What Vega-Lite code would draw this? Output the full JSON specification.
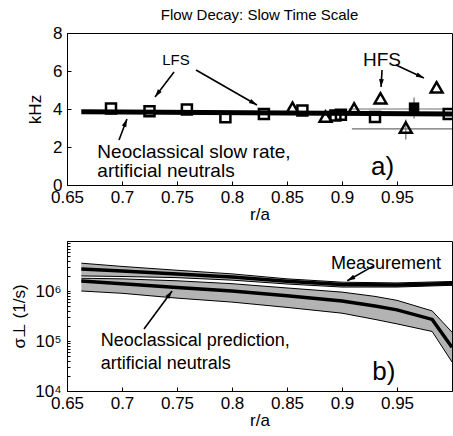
{
  "$schema": "https://vega.github.io/schema/vega-lite/v6.json",
  "padding": {"left": 10, "top": 7, "right": 0, "bottom": 0},
  "spacing": 10,
  "config": {
    "font": "Liberation Sans",
    "view": {"stroke": "black", "strokeWidth": 1},
    "axis": {
      "grid": false, "domainColor": "black", "tickColor": "black",
      "labelColor": "black", "titleColor": "black",
      "labelFontSize": 17, "titleFontSize": 17, "titleFontWeight": "normal",
      "tickSize": -4, "labelPadding": 9, "titlePadding": 6, "labelOverlap": false, "labelFlush": false
    },
    "axisX": {"labelPadding": 8},
    "text": {"font": "Liberation Sans", "color": "black"}
  },
  "datasets": {
    "lfs": [
      {"r": 0.690, "k": 4.03}, {"r": 0.725, "k": 3.88}, {"r": 0.759, "k": 3.98},
      {"r": 0.794, "k": 3.56}, {"r": 0.829, "k": 3.74}, {"r": 0.864, "k": 3.92},
      {"r": 0.894, "k": 3.66}, {"r": 0.899, "k": 3.70}, {"r": 0.930, "k": 3.58},
      {"r": 0.997, "k": 3.74}
    ],
    "hfs": [
      {"r": 0.855, "k": 4.07}, {"r": 0.885, "k": 3.60}, {"r": 0.911, "k": 4.03},
      {"r": 0.935, "k": 4.56}, {"r": 0.958, "k": 3.02}, {"r": 0.986, "k": 5.14}
    ],
    "lfsmean": [{"r": 0.9655, "k": 4.07}],
    "errbars": [
      {"r": 0.906, "r2": 1.0, "k": 4.0, "k2": 4.0},
      {"r": 0.909, "r2": 1.0, "k": 2.95, "k2": 2.95},
      {"r": 0.9655, "r2": 0.9655, "k": 3.5, "k2": 4.6},
      {"r": 0.958, "r2": 0.958, "k": 2.4, "k2": 3.45}
    ],
    "neoslow": [{"r": 0.663, "k": 3.86}, {"r": 1.0, "k": 3.74}],
    "arrowsA": [
      {"id": "lfs1", "r": 0.7473, "k": 5.947, "r2": 0.730, "k2": 4.632},
      {"id": "lfs2", "r": 0.7673, "k": 6.053, "r2": 0.8227, "k2": 4.21},
      {"id": "hfs1", "r": 0.9364, "k": 6.053, "r2": 0.9355, "k2": 5.158},
      {"id": "hfs2", "r": 0.9491, "k": 6.316, "r2": 0.9745, "k2": 5.632},
      {"id": "neo", "r": 0.6973, "k": 2.368, "r2": 0.7045, "k2": 3.474}
    ],
    "textA": [
      {"t": "LFS", "r": 0.7491, "k": 6.58},
      {"t": "HFS", "r": 0.9364, "k": 6.58}
    ],
    "textA2": [
      {"t": "Neoclassical slow rate,", "r": 0.6776, "k": 1.75},
      {"t": "artificial neutrals", "r": 0.6776, "k": 0.75}
    ],
    "labelA": [{"t": "a)", "r": 0.9368, "k": 0.95}],
    "bands": [
      {"series": "pred", "r": 0.663, "lo": 1000000, "mid": 1580000, "hi": 1800000},
      {"series": "pred", "r": 0.70, "lo": 900000, "mid": 1400000, "hi": 1750000},
      {"series": "pred", "r": 0.75, "lo": 720000, "mid": 1180000, "hi": 1600000},
      {"series": "pred", "r": 0.80, "lo": 600000, "mid": 1000000, "hi": 1400000},
      {"series": "pred", "r": 0.85, "lo": 470000, "mid": 800000, "hi": 1150000},
      {"series": "pred", "r": 0.90, "lo": 360000, "mid": 630000, "hi": 950000},
      {"series": "pred", "r": 0.93, "lo": 270000, "mid": 500000, "hi": 780000},
      {"series": "pred", "r": 0.95, "lo": 220000, "mid": 420000, "hi": 650000},
      {"series": "pred", "r": 0.982, "lo": 155000, "mid": 270000, "hi": 400000},
      {"series": "pred", "r": 1.0, "lo": 38000, "mid": 75000, "hi": 150000},
      {"series": "meas", "r": 0.663, "lo": 2000000, "mid": 2750000, "hi": 3600000},
      {"series": "meas", "r": 0.70, "lo": 1950000, "mid": 2500000, "hi": 3100000},
      {"series": "meas", "r": 0.75, "lo": 1850000, "mid": 2200000, "hi": 2600000},
      {"series": "meas", "r": 0.80, "lo": 1650000, "mid": 1900000, "hi": 2200000},
      {"series": "meas", "r": 0.85, "lo": 1380000, "mid": 1560000, "hi": 1750000},
      {"series": "meas", "r": 0.90, "lo": 1200000, "mid": 1350000, "hi": 1500000},
      {"series": "meas", "r": 0.95, "lo": 1200000, "mid": 1320000, "hi": 1450000},
      {"series": "meas", "r": 1.0, "lo": 1300000, "mid": 1420000, "hi": 1550000}
    ],
    "arrowsB": [
      {"id": "meas", "r": 0.9291, "v": 3210000, "r2": 0.9048, "v2": 1607000},
      {"id": "pred", "r": 0.72, "v": 173800, "r2": 0.7455, "v2": 1000000}
    ],
    "textB": [
      {"t": "Neoclassical prediction,", "r": 0.6806, "v": 101400},
      {"t": "artificial neutrals", "r": 0.6806, "v": 34700}
    ],
    "textB2": [{"t": "Measurement", "r": 0.94, "v": 3470000}],
    "labelB": [{"t": "b)", "r": 0.938, "v": 24000}]
  },
  "vconcat": [
    {
      "width": 385, "height": 152,
      "title": {"text": "Flow Decay: Slow Time Scale", "fontSize": 15, "fontWeight": "normal", "anchor": "middle", "offset": 1, "color": "black"},
      "encoding": {
        "x": {"field": "r", "type": "quantitative", "scale": {"domain": [0.65, 1.0], "nice": false, "zero": false},
              "axis": {"values": [0.65, 0.7, 0.75, 0.8, 0.85, 0.9, 0.95], "format": "~g", "title": "r/a", "titlePadding": 1}},
        "y": {"field": "k", "type": "quantitative", "scale": {"domain": [0, 8], "nice": false},
              "axis": {"values": [0, 2, 4, 6, 8], "title": "kHz", "titlePadding": 8}}
      },
      "layer": [
        {"data": {"name": "errbars"}, "mark": {"type": "rule", "color": "#6e6e6e", "strokeWidth": 1.2},
         "encoding": {"x2": {"field": "r2"}, "y2": {"field": "k2"}}},
        {"data": {"name": "neoslow"}, "mark": {"type": "line", "color": "black", "strokeWidth": 5}, "encoding": {}},
        {"data": {"name": "lfs"}, "mark": {"type": "point", "shape": "square", "filled": false, "color": "black", "strokeWidth": 2.5, "size": 100, "opacity": 1}, "encoding": {}},
        {"data": {"name": "hfs"}, "mark": {"type": "point", "shape": "triangle-up", "filled": false, "color": "black", "strokeWidth": 2.5, "size": 140, "opacity": 1}, "encoding": {}},
        {"data": {"name": "lfsmean"}, "mark": {"type": "point", "shape": "square", "filled": true, "color": "black", "size": 110, "opacity": 1}, "encoding": {}},
        {"data": {"name": "arrowsA"}, "mark": {"type": "rule", "color": "black", "strokeWidth": 1.6},
         "encoding": {"x2": {"field": "r2"}, "y2": {"field": "k2"}}},
        {"data": {"name": "arrowsA"}, "transform": [{"filter": "datum.id == 'lfs1'"}],
         "mark": {"type": "point", "shape": "M0,0L-0.6,2L0.6,2Z", "filled": true, "color": "black", "size": 64, "opacity": 1, "angle": 217},
         "encoding": {"x": {"field": "r2", "type": "quantitative"}, "y": {"field": "k2", "type": "quantitative"}}},
        {"data": {"name": "arrowsA"}, "transform": [{"filter": "datum.id == 'lfs2'"}],
         "mark": {"type": "point", "shape": "M0,0L-0.6,2L0.6,2Z", "filled": true, "color": "black", "size": 64, "opacity": 1, "angle": 120},
         "encoding": {"x": {"field": "r2", "type": "quantitative"}, "y": {"field": "k2", "type": "quantitative"}}},
        {"data": {"name": "arrowsA"}, "transform": [{"filter": "datum.id == 'hfs1'"}],
         "mark": {"type": "point", "shape": "M0,0L-0.6,2L0.6,2Z", "filled": true, "color": "black", "size": 64, "opacity": 1, "angle": 183},
         "encoding": {"x": {"field": "r2", "type": "quantitative"}, "y": {"field": "k2", "type": "quantitative"}}},
        {"data": {"name": "arrowsA"}, "transform": [{"filter": "datum.id == 'hfs2'"}],
         "mark": {"type": "point", "shape": "M0,0L-0.6,2L0.6,2Z", "filled": true, "color": "black", "size": 64, "opacity": 1, "angle": 115},
         "encoding": {"x": {"field": "r2", "type": "quantitative"}, "y": {"field": "k2", "type": "quantitative"}}},
        {"data": {"name": "arrowsA"}, "transform": [{"filter": "datum.id == 'neo'"}],
         "mark": {"type": "point", "shape": "M0,0L-0.6,2L0.6,2Z", "filled": true, "color": "black", "size": 64, "opacity": 1, "angle": 21},
         "encoding": {"x": {"field": "r2", "type": "quantitative"}, "y": {"field": "k2", "type": "quantitative"}}},
        {"data": {"name": "textA"}, "transform": [{"filter": "datum.t == 'LFS'"}],
         "mark": {"type": "text", "fontSize": 15, "align": "center", "baseline": "middle"},
         "encoding": {"text": {"field": "t"}}},
        {"data": {"name": "textA"}, "transform": [{"filter": "datum.t == 'HFS'"}],
         "mark": {"type": "text", "fontSize": 19, "align": "center", "baseline": "middle"},
         "encoding": {"text": {"field": "t"}}},
        {"data": {"name": "textA2"}, "mark": {"type": "text", "fontSize": 19, "align": "left", "baseline": "middle"},
         "encoding": {"text": {"field": "t"}}},
        {"data": {"name": "labelA"}, "mark": {"type": "text", "fontSize": 26, "align": "center", "baseline": "middle"},
         "encoding": {"text": {"field": "t"}}}
      ]
    },
    {
      "width": 385, "height": 150,
      "encoding": {
        "x": {"field": "r", "type": "quantitative", "scale": {"domain": [0.65, 1.0], "nice": false, "zero": false},
              "axis": {"values": [0.65, 0.7, 0.75, 0.8, 0.85, 0.9, 0.95], "format": "~g", "title": "r/a", "titlePadding": 1}}
      },
      "layer": [
        {"data": {"name": "bands"}, "mark": {"type": "area", "color": "#b3b3b3", "opacity": 1},
         "encoding": {
           "y": {"field": "lo", "type": "quantitative", "scale": {"type": "log", "domain": [10000, 10000000], "nice": false},
                 "axis": {"values": [10000, 20000, 30000, 40000, 50000, 60000, 70000, 80000, 90000, 100000, 200000, 300000, 400000, 500000, 600000, 700000, 800000, 900000, 1000000, 2000000, 3000000, 4000000, 5000000, 6000000, 7000000, 8000000, 9000000],
                          "labelExpr": "datum.value == 10000 ? '10⁴' : datum.value == 100000 ? '10⁵' : datum.value == 1000000 ? '10⁶' : ''",
                          "title": "σ⊥   (1/s)", "tickSize": -3, "titlePadding": 6}},
           "y2": {"field": "hi"},
           "detail": {"field": "series"}
         }},
        {"data": {"name": "bands"}, "mark": {"type": "line", "color": "black", "strokeWidth": 1},
         "encoding": {"y": {"field": "lo", "type": "quantitative", "scale": {"type": "log", "domain": [10000, 10000000], "nice": false}}, "detail": {"field": "series"}}},
        {"data": {"name": "bands"}, "mark": {"type": "line", "color": "black", "strokeWidth": 1},
         "encoding": {"y": {"field": "hi", "type": "quantitative", "scale": {"type": "log", "domain": [10000, 10000000], "nice": false}}, "detail": {"field": "series"}}},
        {"data": {"name": "bands"}, "mark": {"type": "line", "color": "black", "strokeWidth": 3.5},
         "encoding": {"y": {"field": "mid", "type": "quantitative", "scale": {"type": "log", "domain": [10000, 10000000], "nice": false}}, "detail": {"field": "series"}}},
        {"data": {"name": "arrowsB"}, "mark": {"type": "rule", "color": "black", "strokeWidth": 1.6},
         "encoding": {"y": {"field": "v", "type": "quantitative", "scale": {"type": "log", "domain": [10000, 10000000], "nice": false}}, "x2": {"field": "r2"}, "y2": {"field": "v2"}}},
        {"data": {"name": "arrowsB"}, "transform": [{"filter": "datum.id == 'meas'"}],
         "mark": {"type": "point", "shape": "M0,0L-0.6,2L0.6,2Z", "filled": true, "color": "black", "size": 64, "opacity": 1, "angle": 241},
         "encoding": {"x": {"field": "r2", "type": "quantitative"}, "y": {"field": "v2", "type": "quantitative", "scale": {"type": "log", "domain": [10000, 10000000], "nice": false}}}},
        {"data": {"name": "arrowsB"}, "transform": [{"filter": "datum.id == 'pred'"}],
         "mark": {"type": "point", "shape": "M0,0L-0.6,2L0.6,2Z", "filled": true, "color": "black", "size": 64, "opacity": 1, "angle": 36},
         "encoding": {"x": {"field": "r2", "type": "quantitative"}, "y": {"field": "v2", "type": "quantitative", "scale": {"type": "log", "domain": [10000, 10000000], "nice": false}}}},
        {"data": {"name": "textB"}, "mark": {"type": "text", "fontSize": 18, "align": "left", "baseline": "middle"},
         "encoding": {"y": {"field": "v", "type": "quantitative", "scale": {"type": "log", "domain": [10000, 10000000], "nice": false}}, "text": {"field": "t"}}},
        {"data": {"name": "textB2"}, "mark": {"type": "text", "fontSize": 18, "align": "center", "baseline": "middle"},
         "encoding": {"y": {"field": "v", "type": "quantitative", "scale": {"type": "log", "domain": [10000, 10000000], "nice": false}}, "text": {"field": "t"}}},
        {"data": {"name": "labelB"}, "mark": {"type": "text", "fontSize": 26, "align": "center", "baseline": "middle"},
         "encoding": {"y": {"field": "v", "type": "quantitative", "scale": {"type": "log", "domain": [10000, 10000000], "nice": false}}, "text": {"field": "t"}}}
      ]
    }
  ]
}
